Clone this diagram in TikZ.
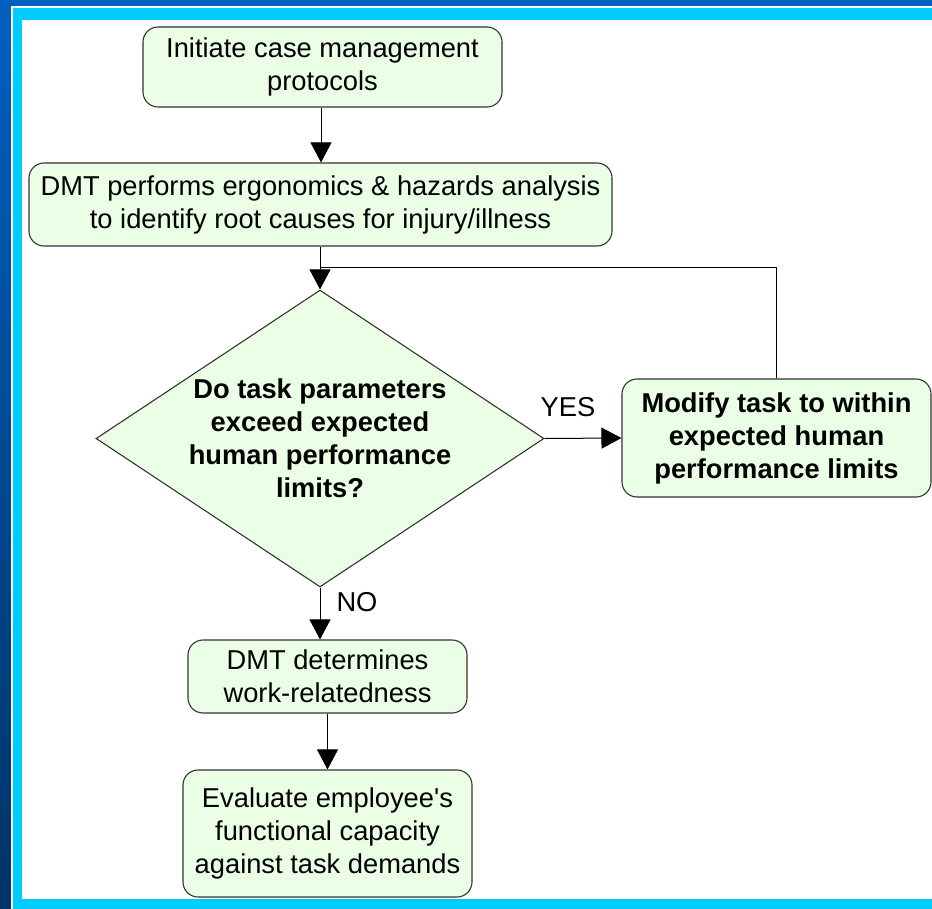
\documentclass[tikz,border=0pt]{standalone}
\usepackage{fontspec}
\setmainfont{Liberation Sans}
\usetikzlibrary{arrows.meta,shapes.geometric}
\definecolor{boxfill}{RGB}{234,255,230}
\definecolor{boxline}{RGB}{51,51,51}
\definecolor{cyanband}{RGB}{0,204,255}
\definecolor{topblue}{RGB}{0,96,192}
\definecolor{botblue}{RGB}{0,51,102}
\tikzset{
  stepbox/.style={draw=boxline, line width=1.1pt, fill=boxfill, rounded corners=15pt,
    inner sep=0pt, align=center, font=\fontsize{27.3}{33}\selectfont},
  boldbox/.style={stepbox, font=\fontsize{27.3}{33}\selectfont\bfseries},
  conn/.style={draw=black, line width=1pt},
  arr/.style={conn, -{Triangle[length=20pt,width=21pt]}},
  lbl/.style={inner sep=0pt, font=\fontsize{27.3}{33}\selectfont}
}
\begin{document}
\begin{tikzpicture}[x=1pt,y=-1pt]
\useasboundingbox (0,0) rectangle (932,909);
% background frame
\fill[cyanband] (0,0) rectangle (932,909);
\fill[topblue] (0,0) rectangle (932,6);
\shade[top color=topblue, bottom color=botblue] (0,0) rectangle (11,909);
\fill[white] (11,6) rectangle (932,8);
\fill[white] (11,6) rectangle (13,909);
\fill[white] (22,20) rectangle (932,899);

% nodes
\node[stepbox, minimum width=359pt, minimum height=80pt] (b1) at (322.5,67)
  {Initiate case management\\protocols};
\node[stepbox, minimum width=583pt, minimum height=83pt] (b2) at (320.5,204.5)
  {DMT performs ergonomics \& hazards analysis\\to identify root causes for injury/illness};
\node[diamond, draw=boxline, line width=1.1pt, fill=boxfill, inner sep=0pt,
  minimum width=448pt, minimum height=297pt] (d) at (320,438.5) {};
\node[lbl, align=center, font=\fontsize{27.3}{33}\selectfont\bfseries] (dq) at (d.center)
  {Do task parameters\\exceed expected\\human performance\\limits?};
\node[boldbox, minimum width=309pt, minimum height=118pt] (b3) at (776.5,438)
  {Modify task to within\\expected human\\performance limits};
\node[stepbox, minimum width=279pt, minimum height=73pt] (b4) at (327.5,676.5)
  {DMT determines\\work-relatedness};
\node[stepbox, minimum width=289pt, minimum height=127pt] (b5) at (327.5,833.5)
  {Evaluate employee\textquotesingle s\\functional capacity\\against task demands};
\node[lbl] (yes) at (568,407) {YES};
\node[lbl] (no) at (357,602) {NO};
\coordinate (fb) at (320,268);

% connectors
\draw[arr] (b1.south -| 321,0) -- (321,0 |- b2.north);
\draw[arr] (d.north |- b2.south) -- (d.north);
\draw[conn] (b3.north) |- (fb);
\draw[arr] (d.east) -- (b3.west);
\draw[arr] (d.south) -- (d.south |- b4.north);
\draw[arr] (b4.south) -- (b5.north);
\end{tikzpicture}
\end{document}
